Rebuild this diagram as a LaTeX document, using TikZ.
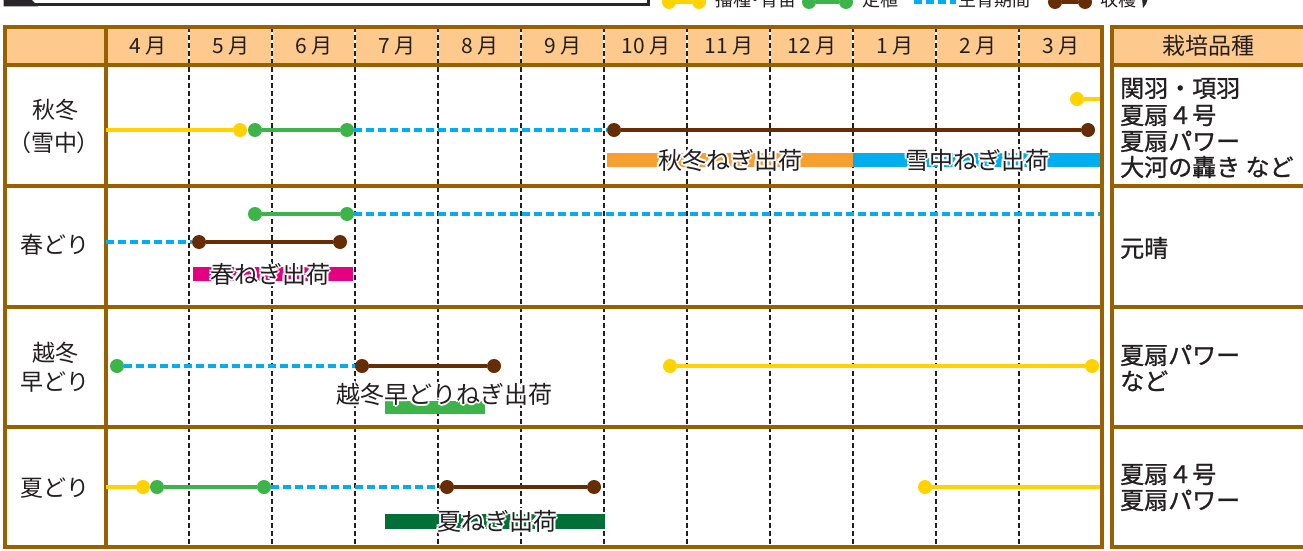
\documentclass[tikz,border=0pt]{standalone}
\usepackage{fontspec}
\setmainfont{Noto Sans CJK JP}
\newfontfamily\jp{Noto Sans CJK JP}
\newfontfamily\jppalt[RawFeature=+palt]{Noto Sans CJK JP}
\newfontfamily\jpmed[FakeBold=1]{Noto Sans CJK JP}
\definecolor{bord}{RGB}{153,96,0}
\definecolor{hdr}{RGB}{253,201,140}
\definecolor{cyel}{RGB}{255,210,0}
\definecolor{cgrn}{RGB}{60,180,74}
\definecolor{ccyan}{RGB}{0,174,239}
\definecolor{cbrn}{RGB}{102,45,5}
\definecolor{corg}{RGB}{247,160,48}
\definecolor{cpink}{RGB}{228,0,127}
\definecolor{cdgrn}{RGB}{0,112,55}
\definecolor{ctext}{RGB}{35,31,32}
\definecolor{topgray}{RGB}{40,38,40}
\newcommand\halolbl[4]{%
  \foreach \hx/\hy in {2/0,-2/0,0/2,0/-2,1.5/1.5,1.5/-1.5,-1.5/1.5,-1.5/-1.5}{%
    \node[shiplbl,text=white] at (#2+\hx,#3+\hy) {#4};}%
  \node[shiplbl] (#1) at (#2,#3) {#4};}
\begin{document}
\begin{tikzpicture}[x=1pt,y=-1pt,
  pdot/.style={circle,fill=#1,inner sep=0pt,minimum size=14pt},
  solidln/.style={line width=4pt,draw=#1},
  dashln/.style={line width=4pt,draw=ccyan,dash pattern=on 8pt off 4pt},
  gridln/.style={line width=1.1pt,draw=ctext,dash pattern=on 5pt off 3pt},
  bordln/.style={line width=4pt,draw=bord},
  shipbar/.style={line width=#1},
  shiplbl/.style={inner sep=0pt,text=ctext,font=\fontsize{24}{28}\selectfont,text height=21.1pt,text depth=2.9pt},
  rlbl/.style={inner sep=0pt,anchor=west,text=ctext,font=\jpmed\fontsize{24}{28}\selectfont,text height=21.1pt,text depth=2.9pt},
  llbl/.style={inner sep=0pt,text=ctext,font=\fontsize{23}{27}\selectfont,text height=20.2pt,text depth=2.8pt},
  mlbl/.style={inner sep=0pt,text=ctext,font=\fontsize{21}{25}\selectfont,text height=18.5pt,text depth=2.5pt},
  glbl/.style={inner sep=0pt,anchor=west,text=ctext,font=\jppalt\fontsize{18}{22}\selectfont,text height=15.8pt,text depth=2.2pt},
  gdot/.style={circle,fill=#1,inner sep=0pt,minimum size=14pt}
]
\useasboundingbox (0,0) rectangle (1303,551);
\clip (0,0) rectangle (1303,551);

% top (cut) title box
\draw[line width=3pt,draw=topgray,fill=white] (5,-40) rectangle (648,5);
\fill[topgray] (3.5,-40) -- (31,-40) -- (31,-1) -- (38,6.5) -- (3.5,6.5) -- cycle;

% legend (cut)
\node[gdot=cyel] (ly1) at (669,2) {};
\node[gdot=cyel] (ly2) at (699,2) {};
\draw[solidln=cyel] (ly1) -- (ly2);
\node[glbl] (lyt) at (715,0) {播種・育苗};
\node[gdot=cgrn] (lg1) at (809,2) {};
\node[gdot=cgrn] (lg2) at (846,2) {};
\draw[solidln=cgrn] (lg1) -- (lg2);
\node[glbl] (lgt) at (862,0) {定植};
\coordinate (lc1) at (914,2);
\coordinate (lc2) at (956,2);
\draw[dashln] (lc1) -- (lc2);
\node[glbl] (lct) at (958,0) {生育期間};
\node[gdot=cbrn] (lb1) at (1055,2) {};
\node[gdot=cbrn] (lb2) at (1085,2) {};
\draw[solidln=cbrn] (lb1) -- (lb2);
\node[glbl] (lbt) at (1100,0) {収穫};
\fill[topgray] (1142,-2) -- (1148,-2) -- (1146,4) -- (1143,8) -- cycle;

% header fills
\fill[hdr] (5,27) rectangle (1102,65);
\fill[hdr] (1112,27) rectangle (1310,65);

% month grid
\foreach \k in {1,...,11}{
  \draw[white,line width=2pt] (106+83*\k,27) -- (106+83*\k,65);
  \draw[gridln] (106+83*\k,27) -- (106+83*\k,547);
}

% borders
\draw[bordln] (5,27) rectangle (1102,547);
\foreach \yy in {65,186,307,427}{\draw[bordln] (5,\yy) -- (1102,\yy);}
\draw[bordln] (106,27) -- (106,547);
\draw[bordln] (1112,27) rectangle (1310,547);
\foreach \yy in {65,186,307,427}{\draw[bordln] (1112,\yy) -- (1310,\yy);}

% header texts
\node[mlbl] (m4) at (148,46) {4 月};
\node[mlbl] (m5) at (231,46) {5 月};
\node[mlbl] (m6) at (314,46) {6 月};
\node[mlbl] (m7) at (397,46) {7 月};
\node[mlbl] (m8) at (480,46) {8 月};
\node[mlbl] (m9) at (563,46) {9 月};
\node[mlbl] (m10) at (646,46) {10 月};
\node[mlbl] (m11) at (729,46) {11 月};
\node[mlbl] (m12) at (812,46) {12 月};
\node[mlbl] (m1) at (895,46) {1 月};
\node[mlbl] (m2) at (978,46) {2 月};
\node[mlbl] (m3) at (1061,46) {3 月};
\node[llbl] (hv) at (1208,46) {栽培品種};

% left labels
\node[llbl] (l1a) at (55,110) {秋冬};
\node[llbl,font=\jppalt\fontsize{23}{27}\selectfont] (l1b) at (54,143) {（雪中）};
\node[llbl] (l2) at (55,245) {春どり};
\node[llbl] (l3a) at (55,353) {越冬};
\node[llbl] (l3b) at (55,382) {早どり};
\node[llbl] (l4) at (55,488) {夏どり};

% right labels
\node[rlbl] (v1a) at (1120,88) {関羽・項羽};
\node[rlbl] (v1b) at (1120,115) {夏扇４号};
\node[rlbl] (v1c) at (1120,141) {夏扇パワー};
\node[rlbl] (v1d) at (1120,167) {大河の轟き など};
\node[rlbl] (v2) at (1120,248) {元晴};
\node[rlbl] (v3a) at (1120,355) {夏扇パワー};
\node[rlbl] (v3b) at (1120,381) {など};
\node[rlbl] (v4a) at (1120,474) {夏扇４号};
\node[rlbl] (v4b) at (1120,500) {夏扇パワー};

% row 1
\coordinate (r1s) at (106,130);
\node[pdot=cyel] (r1y) at (240,130) {};
\node[pdot=cgrn] (r1g1) at (255,130) {};
\node[pdot=cgrn] (r1g2) at (347,130) {};
\node[pdot=cbrn] (r1b1) at (614,130) {};
\node[pdot=cbrn] (r1b2) at (1088,130) {};
\draw[solidln=cyel] (r1s) -- (r1y);
\draw[solidln=cgrn] (r1g1) -- (r1g2);
\draw[dashln] (r1g2) -- (r1b1);
\draw[solidln=cbrn] (r1b1) -- (r1b2);
\node[pdot=cyel] (r1y2) at (1077,99) {};
\coordinate (r1e) at (1100,99);
\draw[solidln=cyel] (r1y2) -- (r1e);
\coordinate (o1) at (607,160);
\coordinate (o2) at (853,160);
\coordinate (o3) at (1100,160);
\draw[shipbar=14pt,draw=corg] (o1) -- (o2);
\draw[shipbar=14pt,draw=ccyan] (o2) -- (o3);
\halolbl{s1}{730}{160}{秋冬ねぎ出荷}
\halolbl{s2}{977}{160}{雪中ねぎ出荷}

% row 2
\node[pdot=cgrn] (r2g1) at (255,214) {};
\node[pdot=cgrn] (r2g2) at (347,214) {};
\coordinate (r2e) at (1100,214);
\draw[solidln=cgrn] (r2g1) -- (r2g2);
\draw[dashln] (r2g2) -- (r2e);
\coordinate (r2s) at (106,242);
\node[pdot=cbrn] (r2b1) at (199,242) {};
\node[pdot=cbrn] (r2b2) at (340,242) {};
\draw[dashln] (r2s) -- (r2b1);
\draw[solidln=cbrn] (r2b1) -- (r2b2);
\coordinate (p1) at (193,274);
\coordinate (p2) at (353,274);
\draw[shipbar=14pt,draw=cpink] (p1) -- (p2);
\halolbl{s3}{270}{274}{春ねぎ出荷}

% row 3
\node[pdot=cgrn] (r3g) at (117,366) {};
\node[pdot=cbrn] (r3b1) at (362,366) {};
\node[pdot=cbrn] (r3b2) at (494,366) {};
\draw[dashln] (r3g) -- (r3b1);
\draw[solidln=cbrn] (r3b1) -- (r3b2);
\node[pdot=cyel] (r3y1) at (670,366) {};
\node[pdot=cyel] (r3y2) at (1092,366) {};
\draw[solidln=cyel] (r3y1) -- (r3y2);
\coordinate (q1) at (385,407);
\coordinate (q2) at (485,407);
\draw[shipbar=13pt,draw=cgrn] (q1) -- (q2);
\halolbl{s4}{444}{394}{越冬早どりねぎ出荷}

% row 4
\coordinate (r4s) at (106,487);
\node[pdot=cyel] (r4y) at (143,487) {};
\node[pdot=cgrn] (r4g1) at (157,487) {};
\node[pdot=cgrn] (r4g2) at (264,487) {};
\node[pdot=cbrn] (r4b1) at (447,487) {};
\node[pdot=cbrn] (r4b2) at (594,487) {};
\draw[solidln=cyel] (r4s) -- (r4y);
\draw[solidln=cgrn] (r4g1) -- (r4g2);
\draw[dashln] (r4g2) -- (r4b1);
\draw[solidln=cbrn] (r4b1) -- (r4b2);
\node[pdot=cyel] (r4y2) at (925,487) {};
\coordinate (r4e) at (1100,487);
\draw[solidln=cyel] (r4y2) -- (r4e);
\coordinate (d1) at (385,521);
\coordinate (d2) at (605,521);
\draw[shipbar=15pt,draw=cdgrn] (d1) -- (d2);
\halolbl{s5}{497}{521}{夏ねぎ出荷}
\end{tikzpicture}
\end{document}
